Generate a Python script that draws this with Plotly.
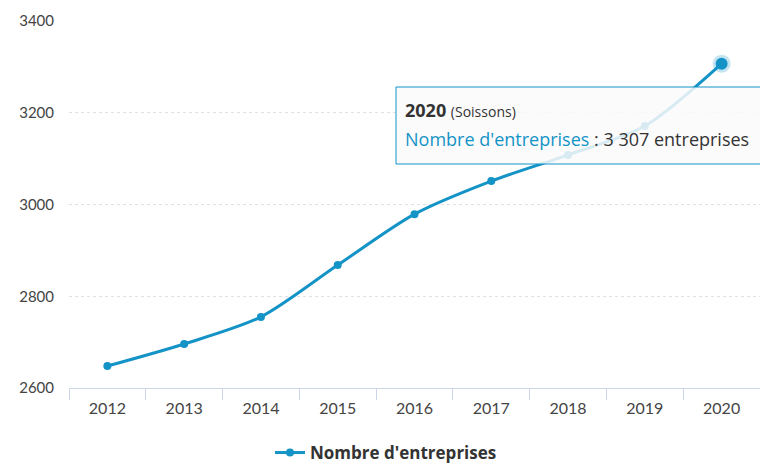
import plotly.graph_objects as go

years = ["2012", "2013", "2014", "2015", "2016", "2017", "2018", "2019", "2020"]
entreprises = [2648, 2696, 2755, 2868, 2979, 3051, 3108, 3171, 3307]
y_ticks = [2600, 2800, 3000, 3200, 3400]
series_name = "Nombre d'entreprises"
place = "Soissons"

color = "#1493c7"
font_family = "Lato, 'Open Sans', sans-serif"
tip_family = "'Open Sans', Lato, sans-serif"

fig = go.Figure()
fig.add_trace(go.Scatter(
    x=years, y=entreprises, mode="lines+markers", name=f"<b>{series_name}</b>",
    line=dict(color=color, width=3, shape="spline", smoothing=0.8),
    marker=dict(color=color, size=8),
))
# hovered point with halo
fig.add_trace(go.Scatter(
    x=[years[-1]], y=[entreprises[-1]], mode="markers", showlegend=False,
    marker=dict(color=color, size=12, line=dict(color="rgba(20,147,199,0.25)", width=6)),
    hoverinfo="skip",
))

# tooltip box (extends past the right edge, as in the reference)
px = lambda v: (v - 69) / 691
py = lambda v: (388 - v) / 367
fig.add_shape(
    type="rect", xref="paper", yref="paper", layer="above",
    x0=px(396), x1=px(800), y0=py(164), y1=py(87),
    fillcolor="rgba(250,250,250,0.85)", line=dict(color=color, width=1),
)
val = f"{entreprises[-1]:,}".replace(",", " ")
tip1 = f"<b>{years[-1]}</b> <span style='font-size:14px'>({place})</span>"
tip2 = f"<span style='color:{color}'>{series_name}</span> : {val} entreprises"
for txt, yc in ((tip1, 110), (tip2, 139)):
    fig.add_annotation(
        xref="paper", yref="paper", x=px(403), y=py(yc),
        xanchor="left", yanchor="middle", showarrow=False, align="left",
        text=txt, font=dict(family=tip_family, size=18, color="#333333"),
    )

fig.update_layout(
    width=760, height=464,
    margin=dict(l=69, r=0, t=21, b=76, autoexpand=False),
    paper_bgcolor="white", plot_bgcolor="white",
    font=dict(family=font_family, size=14, color="#555555"),
    xaxis=dict(
        type="category", tickson="boundaries", ticks="outside", ticklen=11,
        tickcolor="#ccd6eb", showline=True, linecolor="#ccd6eb", linewidth=1,
        showgrid=False, range=[-0.5, 8.5], tickfont=dict(size=16, color="#444444"),
        ticklabelstandoff=6,
    ),
    yaxis=dict(
        range=[2600, 3400], tickvals=y_ticks, showgrid=True, gridcolor="#e0e0e0",
        griddash="dot", zeroline=False, ticks="", ticklabelstandoff=14,
        tickfont=dict(size=15, color="#444444"),
    ),
    legend=dict(
        orientation="h", x=(386 - 69) / 691, xanchor="center", yref="container",
        y=(464 - 453) / 464, yanchor="middle",
        font=dict(size=17, color="#333333", family=tip_family),
        itemwidth=30,
    ),
    showlegend=True,
)

fig.write_html("out.html")
